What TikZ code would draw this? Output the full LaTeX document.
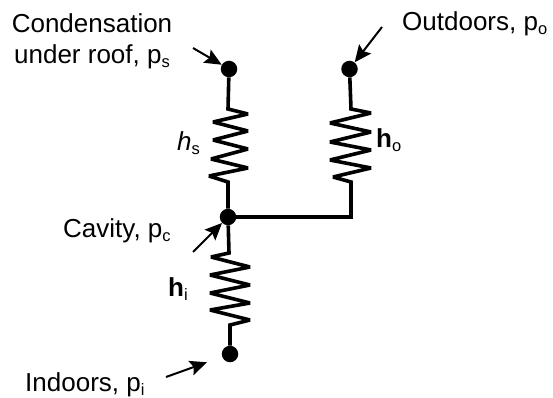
\documentclass[tikz,border=0pt]{standalone}
\usepackage{fontspec}
\setmainfont{Liberation Sans}
\usetikzlibrary{arrows.meta}
\newcommand{\thickness}{3.6pt}
\newcommand{\labelsize}{\fontsize{26}{31}\selectfont}
\newcommand{\low}[1]{\raisebox{-4pt}{\fontsize{16.5}{16.5}\selectfont #1}}
\tikzset{
  dot/.style={fill,circle,inner sep=0pt,minimum size=16.5pt},
  txt/.style={anchor=base west,inner sep=0pt,font=\labelsize},
  wire/.style={line width=\thickness,miter limit=3},
  pointer/.style={line width=2pt,-{Stealth[length=17pt,width=15pt,inset=3pt]}}
}

\begin{document}
\begin{tikzpicture}[x=1pt,y=-1pt]
\useasboundingbox (0,0) rectangle (553,398);
\node[dot] (s) at (229,69) {};
\node[dot] (o) at (349.5,69) {};
\node[dot] (c) at (228,217) {};
\node[dot] (i) at (230,354) {};
\coordinate (corner) at (351,217);
%labels
\node[txt,align=center,anchor=base] (slabel) at (92,64) {Condensation\\under roof, p\low{s}};
\node[txt] (olabel) at (402,31) {Outdoors, p\low{o}};
\node[txt] (clabel) at (63,237) {Cavity, p\low{c}};
\node[txt] (ilabel) at (25,391) {Indoors, p\low{i}};
\node[txt] (hs) at (177,150) {\textit{h}\low{s}};
\node[txt] (ho) at (376,148) {\textbf{h}\low{o}};
\node[txt] (hi) at (168,296) {\textbf{h}\low{i}};
%resistors
\draw[wire] (s) -- (228,109) -- (248,114) -- (213,122) -- (248,131) -- (213,140)
  -- (248,149) -- (211,159) -- (248,168) -- (209,176) -- (228,182) -- (c);
\draw[wire] (o) -- (351,109) -- (371,113) -- (330,123) -- (371,132) -- (330,142)
  -- (371,150) -- (330,160) -- (371,168) -- (333,177) -- (351,182) -- (corner);
\draw[wire] (c) -- (229,253) -- (211,257) -- (250,267) -- (210,275) -- (250,285)
  -- (210,293) -- (250,303) -- (210,310) -- (250,320) -- (230,325) -- (i);
%branch
\draw[line width=4.5pt,line cap=rect] (c) -- (corner) -- (351,198);
%pointers
\coordinate (stail) at (193,48);
\coordinate (otail) at (382,27);
\coordinate (ctail) at (193,252);
\coordinate (itail) at (166,377);
\draw[pointer] (stail) -- (s);
\draw[pointer] (otail) -- (o);
\draw[pointer] (ctail) -- (c);
\draw[pointer,shorten >=16pt] (itail) -- (i);
\end{tikzpicture}
\end{document}
